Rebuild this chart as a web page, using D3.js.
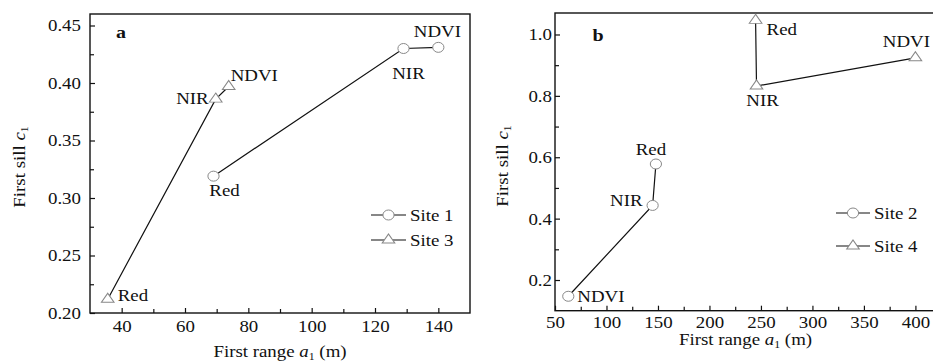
<!DOCTYPE html>
<html><head><meta charset="utf-8">
<script src="https://cdn.jsdelivr.net/npm/d3@7"></script>
<style>
body{margin:0;background:#fff;}
text{font-family:"Liberation Serif","Times New Roman",serif;fill:#111;}
</style></head>
<body><svg id="c" width="933" height="363"></svg>
<script>
// ---------- data ----------
const bands = ["Red", "NIR", "NDVI"];
// panel a
const site1Range = [69, 129, 140];
const site1Sill  = [0.319, 0.430, 0.431];
const site3Range = [35.6, 69.7, 73.8];
const site3Sill  = [0.212, 0.386, 0.397];
// panel b
const site2Range = [148, 144.8, 62.9];
const site2Sill  = [0.578, 0.443, 0.147];
const site4Range = [244.8, 245.7, 400];
const site4Sill  = [1.046, 0.832, 0.924];
// ticks
const aXTicks = [40, 60, 80, 100, 120, 140];
const aXMinor = [30, 50, 70, 90, 110, 130, 150];
const aYTicks = [0.20, 0.25, 0.30, 0.35, 0.40, 0.45];
const aYMinor = [0.225, 0.275, 0.325, 0.375, 0.425];
const bXTicks = [50, 100, 150, 200, 250, 300, 350, 400];
const bXMinor = [75, 125, 175, 225, 275, 325, 375];
const bYTicks = [0.2, 0.4, 0.6, 0.8, 1.0];
const bYMinor = [0.1, 0.3, 0.5, 0.7, 0.9];

const SX = 1.18, FS = 16;
const svg = d3.select("#c");

function txt(g, x, y, s, anchor, opts) {
  opts = opts || {};
  const t = g.append("text")
    .attr("transform", `translate(${x},${y})${opts.rot ? " rotate(" + opts.rot + ")" : ""} scale(${SX},1)`)
    .attr("text-anchor", anchor || "start")
    .style("font-size", (opts.fs || FS) + "px");
  if (opts.bold) t.style("font-weight", "bold");
  if (typeof s === "string") t.text(s);
  else s(t);
  return t;
}

function panel(cfg) {
  const g = svg.append("g");
  const x = d3.scaleLinear().domain(cfg.xd).range([cfg.l, cfg.r]);
  const y = d3.scaleLinear().domain(cfg.yd).range([cfg.b, cfg.t]);

  // frame
  g.append("rect").attr("x", cfg.l).attr("y", cfg.t)
    .attr("width", cfg.r - cfg.l).attr("height", cfg.b - cfg.t)
    .attr("fill", "none").attr("stroke", "#111").attr("stroke-width", 1.4);

  // x axis ticks (inward)
  const xa = g.append("g").attr("transform", `translate(0,${cfg.b})`)
    .call(d3.axisBottom(x).tickValues(cfg.xt).tickSizeInner(-5).tickSizeOuter(0).tickFormat(d3.format("d")));
  xa.select(".domain").remove();
  xa.selectAll("line").attr("stroke", "#111").attr("stroke-width", 1.2);
  xa.selectAll("text").attr("y", null).attr("dy", null)
    .attr("transform", `translate(0,${cfg.xlab}) scale(${SX},1)`)
    .style("font-size", FS + "px").attr("font-family", null);
  const xm = g.append("g").attr("transform", `translate(0,${cfg.b})`)
    .call(d3.axisBottom(x).tickValues(cfg.xm.filter(v => v > cfg.xd[0] && v < cfg.xd[1])).tickSizeInner(-4).tickSizeOuter(0).tickFormat(""));
  xm.select(".domain").remove();
  xm.selectAll("line").attr("stroke", "#111").attr("stroke-width", 1.2);

  // y axis ticks (inward)
  const ya = g.append("g").attr("transform", `translate(${cfg.l},0)`)
    .call(d3.axisLeft(y).tickValues(cfg.yt).tickSizeInner(-5).tickSizeOuter(0).tickFormat(d3.format(cfg.yf)));
  ya.select(".domain").remove();
  ya.selectAll("line").attr("stroke", "#111").attr("stroke-width", 1.2);
  ya.selectAll("text").attr("x", null).attr("dy", "0.34em")
    .attr("transform", `translate(${cfg.ylab},0) scale(${SX},1)`)
    .style("font-size", FS + "px").attr("text-anchor", "end");
  const ym = g.append("g").attr("transform", `translate(${cfg.l},0)`)
    .call(d3.axisLeft(y).tickValues(cfg.ym.filter(v => v > cfg.yd[0] && v < cfg.yd[1])).tickSizeInner(-4).tickSizeOuter(0).tickFormat(""));
  ym.select(".domain").remove();
  ym.selectAll("line").attr("stroke", "#111").attr("stroke-width", 1.2);

  // axis titles
  txt(g, (cfg.l + cfg.r) / 2, cfg.xtitleY, t => {
    t.append("tspan").text("First range ");
    t.append("tspan").style("font-style", "italic").text("a");
    t.append("tspan").style("font-size", "10px").attr("dy", 3).text("1");
    t.append("tspan").attr("dy", -3).text(" (m)");
  }, "middle");
  txt(g, cfg.ytitleX, cfg.ytitleY, t => {
    t.append("tspan").text("First sill ");
    t.append("tspan").style("font-style", "italic").text("c");
    t.append("tspan").style("font-size", "10px").attr("dy", 3).text("1");
  }, "middle", {rot: -90});

  // panel letter
  txt(g, cfg.letterX, cfg.letterY, cfg.letter, "middle", {bold: true, fs: 17});

  const line = d3.line().x(d => x(d.r)).y(d => y(d.s));
  cfg.series.forEach(s => {
    const pts = bands.map((b, i) => ({b, r: s.range[i], s: s.sill[i], off: s.off[i]}));
    g.append("path").attr("d", line(pts)).attr("fill", "none")
      .attr("stroke", "#111").attr("stroke-width", 1.2);
    pts.forEach(p => {
      if (s.shape === "circle") {
        g.append("ellipse").attr("cx", x(p.r)).attr("cy", y(p.s)).attr("rx", 5.6).attr("ry", 5)
          .attr("fill", "#fff").attr("stroke", "#888").attr("stroke-width", 1);
      } else {
        g.append("path").attr("d", d3.symbol(d3.symbolTriangle, 52)())
          .attr("transform", `translate(${x(p.r)},${y(p.s)}) scale(1.15,0.95)`)
          .attr("fill", "#fff").attr("stroke", "#888").attr("stroke-width", 1);
      }
      txt(g, x(p.r) + p.off[0], y(p.s) + p.off[1], p.b, p.off[2]);
    });
  });

  // legend
  cfg.legend.forEach((L, i) => {
    const ly = L.y;
    g.append("line").attr("x1", L.x1).attr("x2", L.x2).attr("y1", ly).attr("y2", ly)
      .attr("stroke", "#111").attr("stroke-width", 1.2);
    const mx = (L.x1 + L.x2) / 2;
    if (L.shape === "circle") {
      g.append("ellipse").attr("cx", mx).attr("cy", ly).attr("rx", 5.6).attr("ry", 5)
        .attr("fill", "#fff").attr("stroke", "#888").attr("stroke-width", 1);
    } else {
      g.append("path").attr("d", d3.symbol(d3.symbolTriangle, 52)())
        .attr("transform", `translate(${mx},${ly}) scale(1.15,0.95)`)
        .attr("fill", "#fff").attr("stroke", "#888").attr("stroke-width", 1);
    }
    txt(g, L.x2 + 4, ly + 5.5, L.name, "start");
  });
}

panel({
  l: 90, r: 470, t: 14, b: 313,
  xd: [30, 150], yd: [0.20, 0.46],
  xt: aXTicks, xm: aXMinor, yt: aYTicks, ym: aYMinor, yf: ".2f",
  xlab: 19, ylab: -9,
  xtitleY: 357, ytitleX: 25, ytitleY: 167,
  letter: "a", letterX: 121, letterY: 38,
  series: [
    {shape: "circle", range: site1Range, sill: site1Sill,
     off: [[11, 20, "middle"], [5, 30, "middle"], [-1, -10, "middle"]]},
    {shape: "triangle", range: site3Range, sill: site3Sill,
     off: [[10, 2, "start"], [-7, 5, "end"], [2, -5, "start"]]}
  ],
  legend: [
    {name: "Site 1", shape: "circle", x1: 371, x2: 406, y: 215},
    {name: "Site 3", shape: "triangle", x1: 371, x2: 406, y: 240}
  ]
});

panel({
  l: 555, r: 936, t: 13, b: 310.7,
  xd: [50, 420], yd: [0.1, 1.07],
  xt: bXTicks, xm: bXMinor, yt: bYTicks, ym: bYMinor, yf: ".1f",
  xlab: 17, ylab: -3,
  xtitleY: 345, ytitleX: 508, ytitleY: 166,
  letter: "b", letterX: 598, letterY: 41,
  series: [
    {shape: "circle", range: site2Range, sill: site2Sill,
     off: [[-5, -9, "middle"], [-10, 1, "end"], [9, 6, "start"]]},
    {shape: "triangle", range: site4Range, sill: site4Sill,
     off: [[11, 15, "start"], [6, 20, "middle"], [-9, -11, "middle"]]}
  ],
  legend: [
    {name: "Site 2", shape: "circle", x1: 836, x2: 870, y: 213},
    {name: "Site 4", shape: "triangle", x1: 836, x2: 870, y: 246}
  ]
});
</script></body></html>
